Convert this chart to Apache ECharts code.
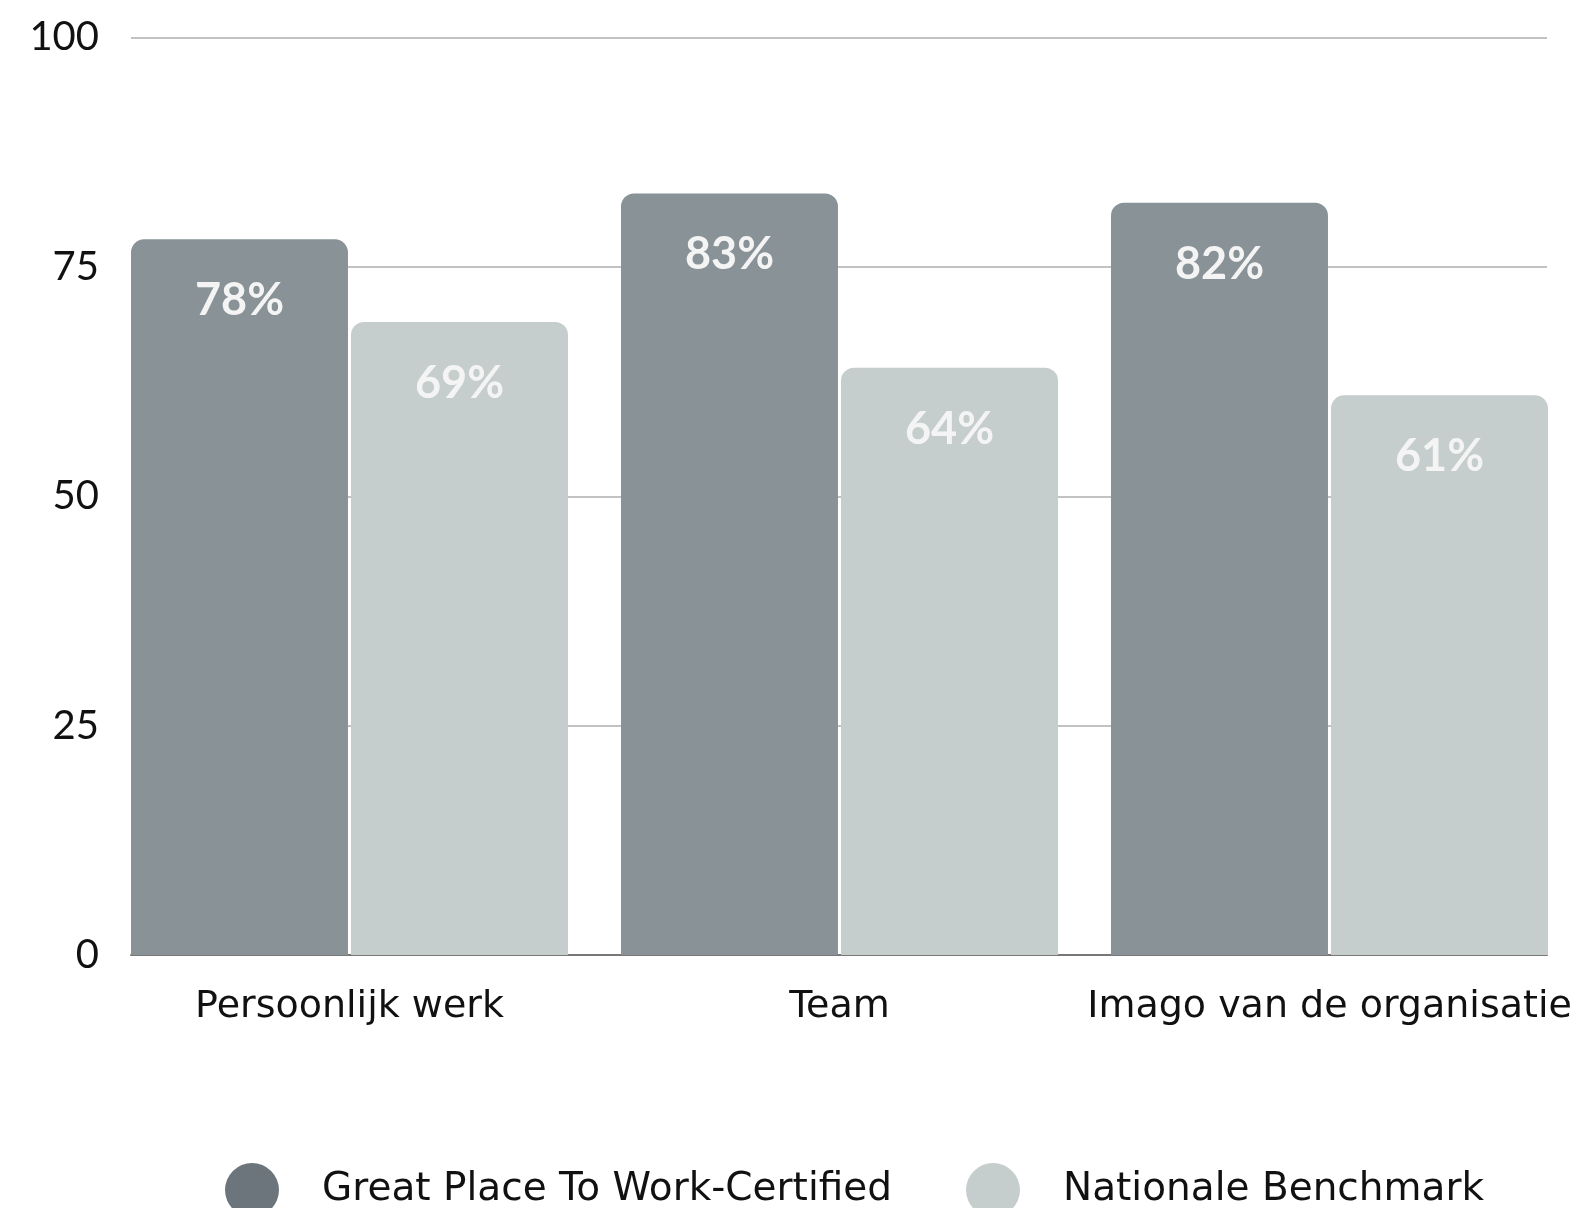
<!DOCTYPE html>
<html>
<head>
<meta charset="utf-8">
<title>Great Place To Work</title>
<script src="https://cdn.jsdelivr.net/npm/echarts@6/dist/echarts.min.js"></script>
<style>
  html, body { margin: 0; padding: 0; background: #fff; }
  #main { width: 1587px; height: 1208px; }
</style>
</head>
<body>
<div id="main"></div>
<script>
// data
var categories = ['Persoonlijk werk', 'Team', 'Imago van de organisatie'];
var seriesNames = ['Great Place To Work-Certified', 'Nationale Benchmark'];
var certified = [78, 83, 82];
var benchmark = [69, 64, 61];
var yTicks = [0, 25, 50, 75, 100];

var chart = echarts.init(document.getElementById('main'));

var barLabel = {
    show: true,
    position: 'insideTop',
    distance: 39,
    formatter: '{c}%',
    color: '#f4f4f4',
    fontSize: 45,
    fontWeight: 'bold',
    fontFamily: 'Lato'
};

var legendText = { color: '#111', fontSize: 39, fontFamily: 'DejaVu Sans', padding: [0, 0, 0, 38] };

var option = {
    backgroundColor: '#ffffff',
    animation: false,
    grid: [
        // gridlines + y labels
        { left: 131, right: 40, top: 37.5, bottom: 253 },
        // bars
        { left: 104.5, right: 12.5, top: 37.5, bottom: 253 }
    ],
    xAxis: [{
        gridIndex: 0,
        type: 'value',
        min: 0,
        max: 1,
        axisLine: { show: true, lineStyle: { color: '#777', width: 2 } },
        axisTick: { show: false },
        axisLabel: { show: false },
        splitLine: { show: false }
    }, {
        gridIndex: 1,
        type: 'category',
        data: categories,
        axisLine: { show: false },
        axisTick: { show: false },
        axisLabel: { color: '#111', fontSize: 38, margin: 33, fontFamily: 'DejaVu Sans', interval: 0 }
    }],
    yAxis: [{
        gridIndex: 0,
        type: 'value',
        min: yTicks[0],
        max: yTicks[yTicks.length - 1],
        interval: 25,
        axisLine: { show: false },
        axisTick: { show: false },
        axisLabel: { color: '#111', fontSize: 40, margin: 32, fontFamily: 'Lato' },
        splitLine: { lineStyle: { color: '#c2c2c2', width: 2 } }
    }, {
        gridIndex: 1,
        type: 'value',
        min: 0,
        max: 100,
        show: false
    }],
    legend: [{
        data: [{ name: seriesNames[0], itemStyle: { color: '#6b757b' } }],
        left: 225,
        top: 1163,
        padding: 0,
        icon: 'circle',
        itemWidth: 54,
        itemHeight: 54,
        textStyle: legendText
    }, {
        data: [{ name: seriesNames[1], itemStyle: { color: '#c5cecc' } }],
        left: 966,
        top: 1163,
        padding: 0,
        icon: 'circle',
        itemWidth: 54,
        itemHeight: 54,
        textStyle: legendText
    }],
    series: [{
        name: seriesNames[0],
        type: 'bar',
        xAxisIndex: 1,
        yAxisIndex: 1,
        data: certified,
        barWidth: 217,
        barGap: '1.4%',
        itemStyle: { color: '#889297', borderRadius: [13, 13, 0, 0] },
        label: barLabel
    }, {
        name: seriesNames[1],
        type: 'bar',
        xAxisIndex: 1,
        yAxisIndex: 1,
        data: benchmark,
        barWidth: 217,
        itemStyle: { color: '#c5cecc', borderRadius: [13, 13, 0, 0] },
        label: barLabel
    }]
};

chart.setOption(option);
</script>
</body>
</html>
